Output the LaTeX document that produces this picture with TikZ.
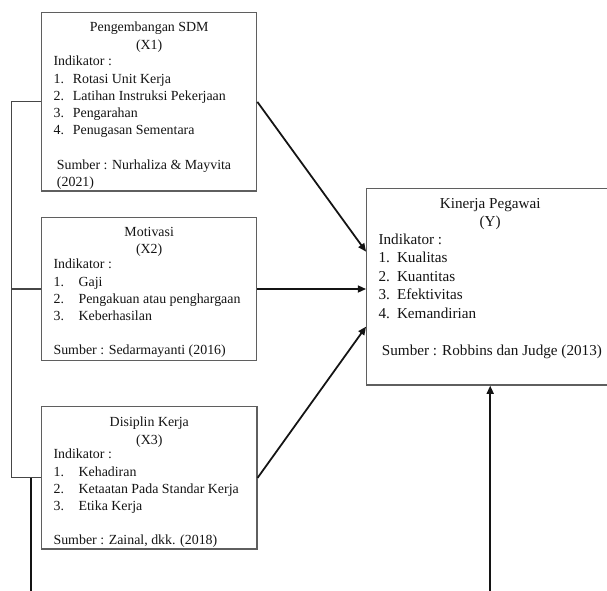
\documentclass[tikz,border=0pt]{standalone}
\usepackage{fontspec}
\setmainfont{Liberation Serif}
\usepackage{xcolor}
\usepackage{tikz}
\usetikzlibrary{positioning,arrows.meta,calc}
\definecolor{ink}{RGB}{20,20,20}
\definecolor{frame}{RGB}{95,95,95}
\definecolor{linkgray}{RGB}{70,70,70}
\newcommand{\nr}[2]{\makebox[#1][l]{#2}}
\tikzset{
  varbox/.style={draw=frame, fill=white, rectangle, line width=1pt, inner sep=0pt},
  ttl/.style={align=center, inner sep=0pt, text=ink, font=\fontsize{11}{13.9}\selectfont},
  lst/.style={align=left, inner sep=0pt, text=ink, font=\fontsize{11}{13.6}\selectfont},
  ttly/.style={ttl, font=\fontsize{12}{14.6}\selectfont},
  lsty/.style={lst, font=\fontsize{12}{14.6}\selectfont},
  flow/.style={-{Triangle[length=6.5pt, width=5.5pt]}, line width=1.4pt, draw=ink},
  link/.style={line width=0.9pt, draw=linkgray},
  trunk/.style={line width=1.3pt, draw=ink},
}

\begin{document}
\begin{tikzpicture}[x=0.791pt, y=-0.791pt]
  \useasboundingbox (0,0) rectangle (607,590);
  % variabel bebas
  \node[varbox, minimum width=170.1pt, minimum height=141pt] (x1) at (149.2,101.85) {};
  \node[varbox, minimum width=170.1pt, minimum height=113.4pt] (x2) at (149.2,289) {};
  \node[varbox, minimum width=170.3pt, minimum height=112.6pt] (x3) at (149.3,477.85) {};
  % variabel terikat
  \node[varbox, minimum width=195.4pt, minimum height=155.6pt] (y) at (490.2,286.65) {};

  \node[ttl, anchor=north] (x1t) at (149.2,21.7) {Pengembangan SDM\\(X1)};
  \node[lst, anchor=north west] (x1l) at (53.3,56) {Indikator :\\
    \nr{15.3pt}{1.}Rotasi Unit Kerja\\
    \nr{15.3pt}{2.}Latihan Instruksi Pekerjaan\\
    \nr{15.3pt}{3.}Pengarahan\\
    \nr{15.3pt}{4.}Penugasan Sementara\\[13.6pt]
    \hspace*{2.7pt}Sumber : Nurhaliza \& Mayvita\\
    \hspace*{2.7pt}(2021)};

  \node[ttl, anchor=north] (x2t) at (149.2,226.7) {Motivasi\\(X2)};
  \node[lst, anchor=north west] (x2l) at (53.3,259) {Indikator :\\
    \nr{19.8pt}{1.}Gaji\\
    \nr{19.8pt}{2.}Pengakuan atau penghargaan\\
    \nr{19.8pt}{3.}Keberhasilan\\[13.6pt]
    Sumber : Sedarmayanti (2016)};

  \node[ttl, anchor=north] (x3t) at (149.3,416.7) {Disiplin Kerja\\(X3)};
  \node[lst, anchor=north west] (x3l) at (53.3,449) {Indikator :\\
    \nr{19.8pt}{1.}Kehadiran\\
    \nr{19.8pt}{2.}Ketaatan Pada Standar Kerja\\
    \nr{19.8pt}{3.}Etika Kerja\\[13.6pt]
    Sumber : Zainal, dkk. (2018)};

  \node[ttly, anchor=north] (yt) at (490.2,197.8) {Kinerja Pegawai\\(Y)};
  \node[lsty, anchor=north west] (yl) at (378.3,233.5) {Indikator :\\
    \nr{14.6pt}{1.}Kualitas\\
    \nr{14.6pt}{2.}Kuantitas\\
    \nr{14.6pt}{3.}Efektivitas\\
    \nr{14.6pt}{4.}Kemandirian\\[14.6pt]
    \hspace*{2.7pt}Sumber : Robbins dan Judge (2013)};

  % panah ke Y
  \draw[flow] (x1.east) -- ($(y.west)+(0,-35)$);
  \draw[flow] (x2.east) -- (x2.east -| y.west);
  \draw[flow] (x3.east) -- ($(y.west)+(0,40)$);

  % kurung kiri dan garis ke bawah
  \coordinate (brk) at (11.7,0);
  \coordinate (down1) at (30.7,593);
  \coordinate (up1) at (490.2,593);
  \draw[link] (x1.west) -- (x1.west -| brk) |- (x3.west);
  \draw[link] (x2.west) -- (x2.west -| brk);
  \draw[trunk] (x3.west -| down1) -- (down1);
  \draw[flow] (up1) -- (y.south);
\end{tikzpicture}
\end{document}
